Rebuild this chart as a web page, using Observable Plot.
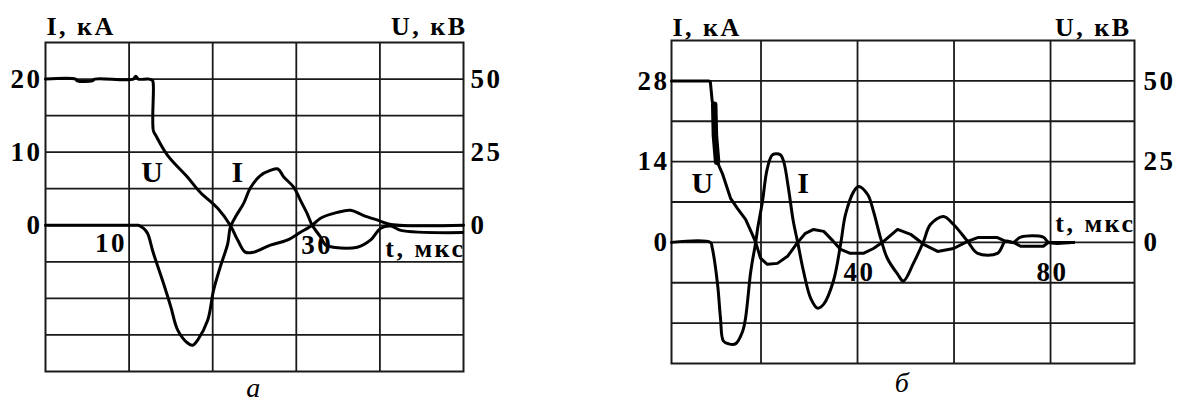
<!DOCTYPE html>
<html><head><meta charset="utf-8">
<script src="https://cdn.jsdelivr.net/npm/d3@7"></script>
<script src="https://cdn.jsdelivr.net/npm/@observablehq/plot@0.6"></script>
<style>
body{margin:0;background:#fff;width:1178px;height:403px;overflow:hidden;position:relative}
#pa{position:absolute;left:0;top:0}
#pb{position:absolute;left:560px;top:0}
</style></head><body><div id="pa"></div><div id="pb"></div>
<script>
// ---- Panel а ----
const aU_t = [0,3.6,3.8,5.6,5.9,10.5,10.8,11.1,12.3,12.8,12.9,12.9,13.2,14.6,17.0,18.5,20.6,22.1,23.0,23.9,24.9,26.9,28.9,30.5,31.9,32.9,34.9,36.5,38.0,39.8,41.3,50];
const aU_v = [50,50,49.4,49.4,50,50,51,50,50,49.5,47.8,32.4,30.7,23.9,16.4,11.3,5.8,0,-5.1,-9.2,-9.2,-6.8,-5.1,-2.4,0,2.4,4.4,5.1,3.4,1.7,0.3,0];
const aI_t = [0,10.8,11.1,11.7,12.2,12.9,14.1,15.0,15.8,17.0,17.6,18.2,19.4,20.1,20.9,21.8,22.1,22.7,23.7,24.5,25.7,26.9,27.8,28.5,29.7,30.5,31.3,31.9,32.9,33.5,34.4,37.3,38.9,40.1,41.3,42.5,49.9];
const aI_v = [0,0,0,-0.4,-1.1,-3.8,-7.9,-11.2,-14.3,-16.1,-16.4,-15.7,-13.0,-8.9,-5.7,-2.5,-0.3,1.1,3.0,5.1,6.8,7.5,7.7,6.6,5.2,3.4,1.6,0,-1.6,-2.7,-3.0,-3.0,-2.0,-0.4,-0.1,-0.7,-1.0];
const aTDomain = [0, 50];
const aIDomain = [-20, 25];
const aGridT = [10, 20, 30, 40];
const aGridI = [-15, -10, -5, 0, 5, 10, 15, 20];
const aITicks = [0, 10, 20];
const aUTicks = [0, 25, 50];
const aRatio = 2.5;           // kV per kA on the right axis
const aXLabelsEnd = [10];
const aXLabelsStart = [30];
const aSeriesLabels = [{t: 12.9, I: 7.2, s: "U"}, {t: 23.1, I: 7.2, s: "I"}];

// ---- Panel б ----
const bU_t = [1.45,9.1,9.5,9.9,10.3,10.9,12.0,13.7,15.1,16.8,18.2,18.9,19.9,21.3,23.4,25.5,27.6,29.2,30.9,33.0,35.0,36.5,38.5,41.2,43.3,45.4,48.3,51.0,53.7,56.6,59.9,62.8,64.9,69.0,70.7,72.3,73.8,78.5,79.6,84.8];
const bU_v = [50,50,49.7,43.5,42.6,25,21.3,13.6,10.5,7.1,2.5,0,-4.9,-6.8,-6.5,-4.3,0,2.8,4.0,3.4,0.3,-2.2,-3.4,-3.4,-1.9,0.3,4.0,2.5,-0.6,-2.8,-1.9,0.3,1.5,1.5,0.3,0,-1.2,-1.2,0,0];
const bBand_t = [10.3, 10.45, 10.9];   // blurred (thick) part of the voltage drop
const bBand_v = [42.6, 33.0, 25.0];
const bI_t = [1.45,9.5,9.9,11.0,11.6,12.2,13.3,14.7,16.2,16.8,17.8,18.2,18.9,19.3,20.3,21.3,22.4,24.0,24.7,25.7,26.7,27.6,28.8,30.3,31.7,33.0,35.0,36.5,37.5,39.2,40.2,42.1,43.3,44.8,46.2,48.3,49.5,51.6,53.7,55.1,57.8,59.9,62.8,64.9,69.0,70.7,72.3,73.8,78.5,79.6,84.8];
const bI_v = [0,0,-1.0,-7.3,-13.1,-17.1,-17.6,-17.6,-15.4,-13.1,-5.5,-3.3,0,2.4,7.1,12.8,15.2,15.2,14.0,9.3,3.6,0,-5.0,-9.7,-11.4,-10.7,-6.7,-0.3,4.8,8.8,9.7,8.3,5.4,0.7,-2.8,-5.5,-6.7,-3.6,0.2,3.1,4.5,3.1,0.2,-1.9,-1.9,0.2,0,0.9,0.9,0,0];
const bTDomain = [1.45, 97.4];
const bIDomain = [-21, 35];
const bGridT = [20, 40, 60, 80];
const bGridI = [-14, -7, 0, 7, 14, 21, 28];
const bITicks = [0, 14, 28];
const bUTicks = [0, 25, 50];
const bRatio = 50 / 28;
const bXLabels = [40, 80];
const bSeriesLabels = [{t: 8.1, I: 10.2, s: "U"}, {t: 29.0, I: 10.2, s: "I"}];

const FONT = "'Liberation Serif', 'Times New Roman', 'DejaVu Serif', serif";

function panel(c) {
  const I = d3.zip(c.iT, c.iV).map(([t, v]) => ({t, v}));
  const U = d3.zip(c.uT, c.uV).map(([t, v]) => ({t, v: v / c.ratio}));
  const band = c.bandT ? d3.zip(c.bandT, c.bandV).map(([t, v]) => ({t, v: v / c.ratio})) : [];
  const gridStyle = {stroke: "#1a1a1a", strokeOpacity: 1, strokeWidth: 1.8};
  return Plot.plot({
    width: c.width, height: 403,
    marginLeft: c.ml, marginRight: c.mr, marginTop: c.mt, marginBottom: c.mb,
    x: {domain: c.tDomain, axis: null, label: null},
    y: {domain: c.iDomain, axis: null, label: null},
    style: {fontFamily: FONT, fontWeight: "bold", fontSize: "26px", color: "#000", background: "#fff", overflow: "visible", letterSpacing: "2.5px"},
    marks: [
      Plot.gridX(c.gridT, gridStyle),
      Plot.gridY(c.gridI, gridStyle),
      Plot.frame({stroke: "#1a1a1a", strokeWidth: 2}),
      Plot.axisY(c.iTicks, {anchor: "left", tickSize: 0, tickPadding: c.padL, label: null, fontSize: 27}),
      Plot.axisY(c.uTicks.map(u => u / c.ratio), {anchor: "right", tickSize: 0, tickPadding: c.padR, label: null, fontSize: 27, tickFormat: d => Math.round(d * c.ratio)}),
      Plot.line(U, {x: "t", y: "v", stroke: "#000", strokeWidth: 3, curve: c.uCurve, strokeLinejoin: "round"}),
      Plot.line(band, {x: "t", y: "v", stroke: "#000", strokeWidth: 6.5, curve: "linear"}),
      Plot.line(I, {x: "t", y: "v", stroke: "#000", strokeWidth: 3, curve: "catmull-rom", strokeLinejoin: "round"}),
      Plot.text(c.seriesLabels, {x: "t", y: "I", text: "s", fontSize: 30}),
      Plot.text(["I, кА"], {frameAnchor: "top-left", textAnchor: "start", dx: 1, dy: c.titleDy, fontSize: 26}),
      Plot.text(["U, кВ"], {frameAnchor: "top-right", textAnchor: "end", dx: c.uTitleDx, dy: c.titleDy, fontSize: 26}),
      ...c.xText,
      Plot.text(["t, мкс"], {x: () => c.tDomain[1], y: () => 0, textAnchor: "end", dx: c.tDx, dy: c.tDy, fontSize: 26}),
      Plot.text([c.sub], {frameAnchor: "bottom", dy: c.subDy, fontStyle: "italic", fontWeight: "normal", fontSize: 28})
    ]
  });
}

document.getElementById("pa").append(panel({
  width: 560, ml: 45, mr: 97, mt: 42, mb: 32,
  tDomain: aTDomain, iDomain: aIDomain, gridT: aGridT, gridI: aGridI,
  iTicks: aITicks, uTicks: aUTicks, ratio: aRatio, padL: 3, padR: 7,
  uT: aU_t, uV: aU_v, iT: aI_t, iV: aI_v, uCurve: "catmull-rom",
  seriesLabels: aSeriesLabels, titleDy: -26, uTitleDx: 4,
  xText: [
    Plot.text(aXLabelsEnd, {x: d => d, y: () => 0, text: d => String(d), textAnchor: "end", dx: -2, dy: 18, fontSize: 27}),
    Plot.text(aXLabelsStart, {x: d => d, y: () => 0, text: d => String(d), textAnchor: "start", dx: 5, dy: 20, fontSize: 27})
  ],
  tDx: 2, tDy: 23, sub: "а", subDy: 25
}));

document.getElementById("pb").append(panel({
  width: 618, ml: 111, mr: 44, mt: 40, mb: 40,
  tDomain: bTDomain, iDomain: bIDomain, gridT: bGridT, gridI: bGridI,
  iTicks: bITicks, uTicks: bUTicks, ratio: bRatio, padL: 2, padR: 9,
  uT: bU_t, uV: bU_v, iT: bI_t, iV: bI_v, uCurve: "linear",
  bandT: bBand_t, bandV: bBand_v,
  seriesLabels: bSeriesLabels, titleDy: -23, uTitleDx: -3,
  xText: [
    Plot.text(bXLabels, {x: d => d, y: () => 0, text: d => String(d), textAnchor: "middle", dx: 2, dy: 30, fontSize: 27})
  ],
  tDx: 1, tDy: -19, sub: "б", subDy: 28
}));
</script>
</body></html>
